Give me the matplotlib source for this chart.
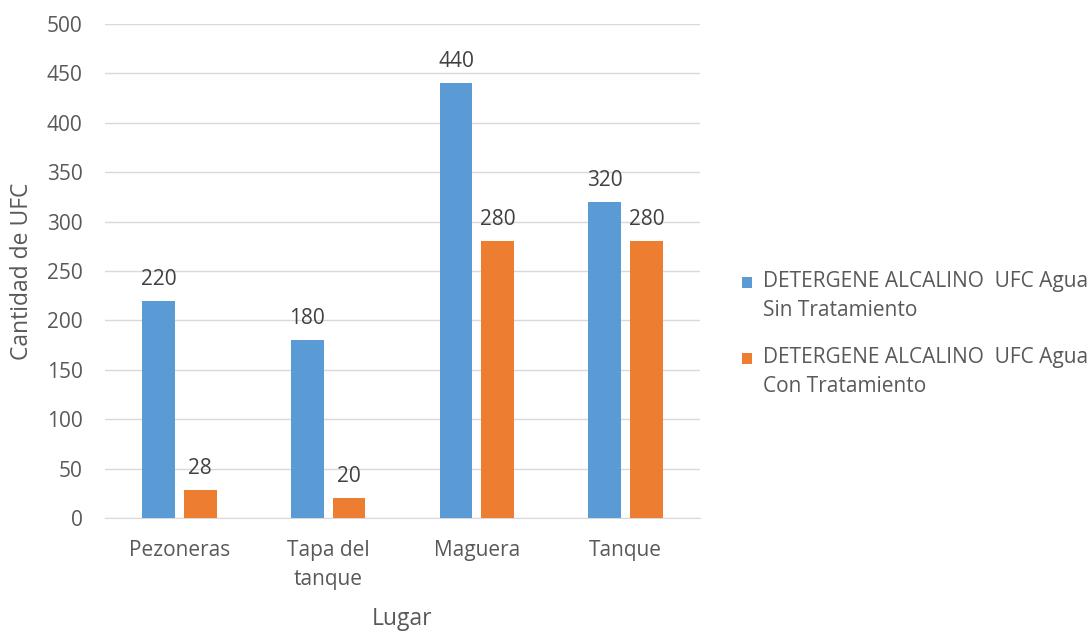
import numpy as np
import matplotlib.pyplot as plt
from matplotlib.patches import Rectangle
from matplotlib.container import BarContainer
from matplotlib.legend_handler import HandlerPatch, update_from_first_child

lugares = ['Pezoneras', 'Tapa del\ntanque', 'Maguera', 'Tanque']
sin_trat = [220, 180, 440, 320]
con_trat = [28, 20, 280, 280]
serie_sin = 'DETERGENE ALCALINO  UFC Agua\nSin Tratamiento'
serie_con = 'DETERGENE ALCALINO  UFC Agua\nCon Tratamiento'

plt.rcParams['font.family'] = ['Open Sans', 'DejaVu Sans']
txt = '#595959'

fig = plt.figure(figsize=(10.91, 6.31), dpi=100)
ax = fig.add_axes([0.0962, 0.179, 0.5454, 0.783])

x = np.arange(len(lugares))
w = 0.22
b1 = ax.bar(x - 0.14, sin_trat, w, color='#5B9BD5', label=serie_sin, zorder=3)
b2 = ax.bar(x + 0.14, con_trat, w, color='#ED7D31', label=serie_con, zorder=3)

for bars in (b1, b2):
    for r in bars:
        ax.annotate(str(int(r.get_height())), (r.get_x() + r.get_width() / 2, r.get_height()),
                    xytext=(0, 8), textcoords='offset points', ha='center', va='bottom',
                    fontsize=15, color='#404040')

ax.set_xlim(-0.5, 3.5)
ax.set_ylim(0, 500)
ax.set_yticks(range(0, 501, 50))
ax.set_xticks(x)
ax.set_xticklabels(lugares, linespacing=1.5)
ax.grid(axis='y', color='#D9D9D9', linewidth=1, zorder=0)
for s in ['top', 'right', 'left']:
    ax.spines[s].set_visible(False)
ax.spines['bottom'].set_color('#D9D9D9')
ax.tick_params(length=0, labelsize=15, colors=txt)
ax.tick_params(axis='x', pad=16)
ax.tick_params(axis='y', pad=16)
ax.set_xlabel('Lugar', fontsize=16.5, color=txt, labelpad=12)
ax.set_ylabel('Cantidad de UFC', fontsize=16.5, color=txt, labelpad=9)


# square aligned with the first line of each legend label
def top_square(legend, orig_handle, xdescent, ydescent, width, height, fontsize):
    return Rectangle((-xdescent, -ydescent + 10), width, height)


leg = ax.legend(loc='upper left', bbox_to_anchor=(0.680, 0.571), bbox_transform=fig.transFigure,
                frameon=False, borderpad=0, borderaxespad=0,
                fontsize=15, labelcolor=txt, handlelength=0.48, handleheight=0.48,
                handletextpad=0.53, labelspacing=1.25,
                handler_map={BarContainer: HandlerPatch(patch_func=top_square,
                                                        update_func=update_from_first_child)})
for t in leg.get_texts():
    t.set_linespacing(1.5)

fig.savefig('out.png', dpi=100)
